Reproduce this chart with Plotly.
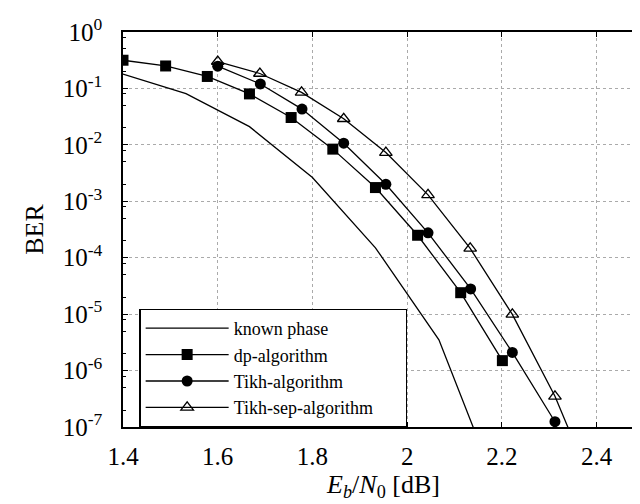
import plotly.graph_objects as go

# ---- data ----
known_x = [1.40, 1.533, 1.667, 1.80, 1.933, 2.067, 2.20]
known_y = [0.18, 0.081, 0.021, 0.00264, 1.5e-4, 3.5e-6, 5e-9]

dp_x = [1.40, 1.49, 1.578, 1.667, 1.755, 1.843, 1.933, 2.022, 2.113, 2.201]
dp_y = [0.316, 0.25, 0.163, 0.080, 0.0305, 0.0084, 0.00175, 2.5e-4, 2.4e-5, 1.5e-6]

tikh_x = [1.60, 1.69, 1.778, 1.866, 1.955, 2.044, 2.134, 2.222, 2.312]
tikh_y = [0.248, 0.12, 0.043, 0.0107, 0.0020, 2.76e-4, 2.8e-5, 2.1e-6, 1.24e-7]

sep_x = [1.60, 1.689, 1.777, 1.866, 1.955, 2.044, 2.133, 2.222, 2.312, 2.40]
sep_y = [0.30, 0.184, 0.085, 0.029, 0.0073, 0.0013, 1.46e-4, 9.9e-6, 3.5e-7, 6e-9]

names = ["known phase", "dp-algorithm", "Tikh-algorithm", "Tikh-sep-algorithm"]

x_ticks = [1.4, 1.6, 1.8, 2.0, 2.2, 2.4]
x_ticktext = ["1.4", "1.6", "1.8", "2", "2.2", "2.4"]
y_exps = [0, -1, -2, -3, -4, -5, -6, -7]
y_ticks = [10.0 ** e for e in y_exps]
y_ticktext = ["10<sup>%d</sup>" % e for e in y_exps]
y_minor = [k * 10.0 ** e for e in range(-7, 0) for k in (2, 5, 8)]

FONT = "Liberation Serif"
LINE = dict(color="black", width=1.3)
PAD = "\u00a0" * 6  # invisible padding to widen the legend box like the reference

fig = go.Figure()
fig.add_trace(go.Scatter(x=known_x, y=known_y, mode="lines", name=names[0], line=LINE))
fig.add_trace(go.Scatter(x=dp_x, y=dp_y, mode="lines+markers", name=names[1], line=LINE,
                         marker=dict(symbol="square", size=11, color="black")))
fig.add_trace(go.Scatter(x=tikh_x, y=tikh_y, mode="lines+markers", name=names[2], line=LINE,
                         marker=dict(symbol="circle", size=11, color="black")))
fig.add_trace(go.Scatter(x=sep_x, y=sep_y, mode="lines+markers", name=names[3] + PAD, line=LINE,
                         marker=dict(symbol="triangle-up-open", size=11, color="black",
                                     line=dict(width=1.3, color="black"))))

fig.update_layout(
    template="none",
    width=640, height=504,
    margin=dict(l=115, r=4, t=24, b=85, autoexpand=False),
    paper_bgcolor="white", plot_bgcolor="white",
    font=dict(family=FONT, size=25, color="black"),
    showlegend=True,
    legend=dict(x=0.031, y=0.30, xanchor="left", yanchor="top",
                bgcolor="white", bordercolor="black", borderwidth=1.5,
                font=dict(family=FONT, size=18, color="black"),
                itemwidth=83, tracegroupgap=0),
)
fig.update_xaxes(
    automargin=False,
    range=[1.4, 2.5], tickvals=x_ticks, ticktext=x_ticktext,
    showline=True, linecolor="black", linewidth=1.5, mirror="ticks",
    ticks="inside", ticklen=5, tickcolor="black", tickwidth=1,
    showgrid=True, gridcolor="#aaaaaa", griddash="dot", gridwidth=1,
    zeroline=False, ticklabelstandoff=6,
    tickfont=dict(family=FONT, size=25),
    title=dict(text="<i>E<sub>b</sub></i>/<i>N</i><sub>0</sub> [dB]",
               font=dict(family=FONT, size=26), standoff=4),
)
fig.update_yaxes(
    automargin=False,
    type="log", range=[-7, 0], tickvals=y_ticks, ticktext=y_ticktext,
    showline=True, linecolor="black", linewidth=1.5, mirror="ticks",
    ticks="inside", ticklen=5, tickcolor="black", tickwidth=1,
    minor=dict(tickvals=y_minor, ticks="inside", ticklen=3, tickcolor="black", showgrid=False),
    showgrid=True, gridcolor="#aaaaaa", griddash="dot", gridwidth=1,
    zeroline=False, ticklabelstandoff=14,
    tickfont=dict(family=FONT, size=25),
    title=dict(text="BER", font=dict(family=FONT, size=26), standoff=12),
)

fig.write_html("out.html")
